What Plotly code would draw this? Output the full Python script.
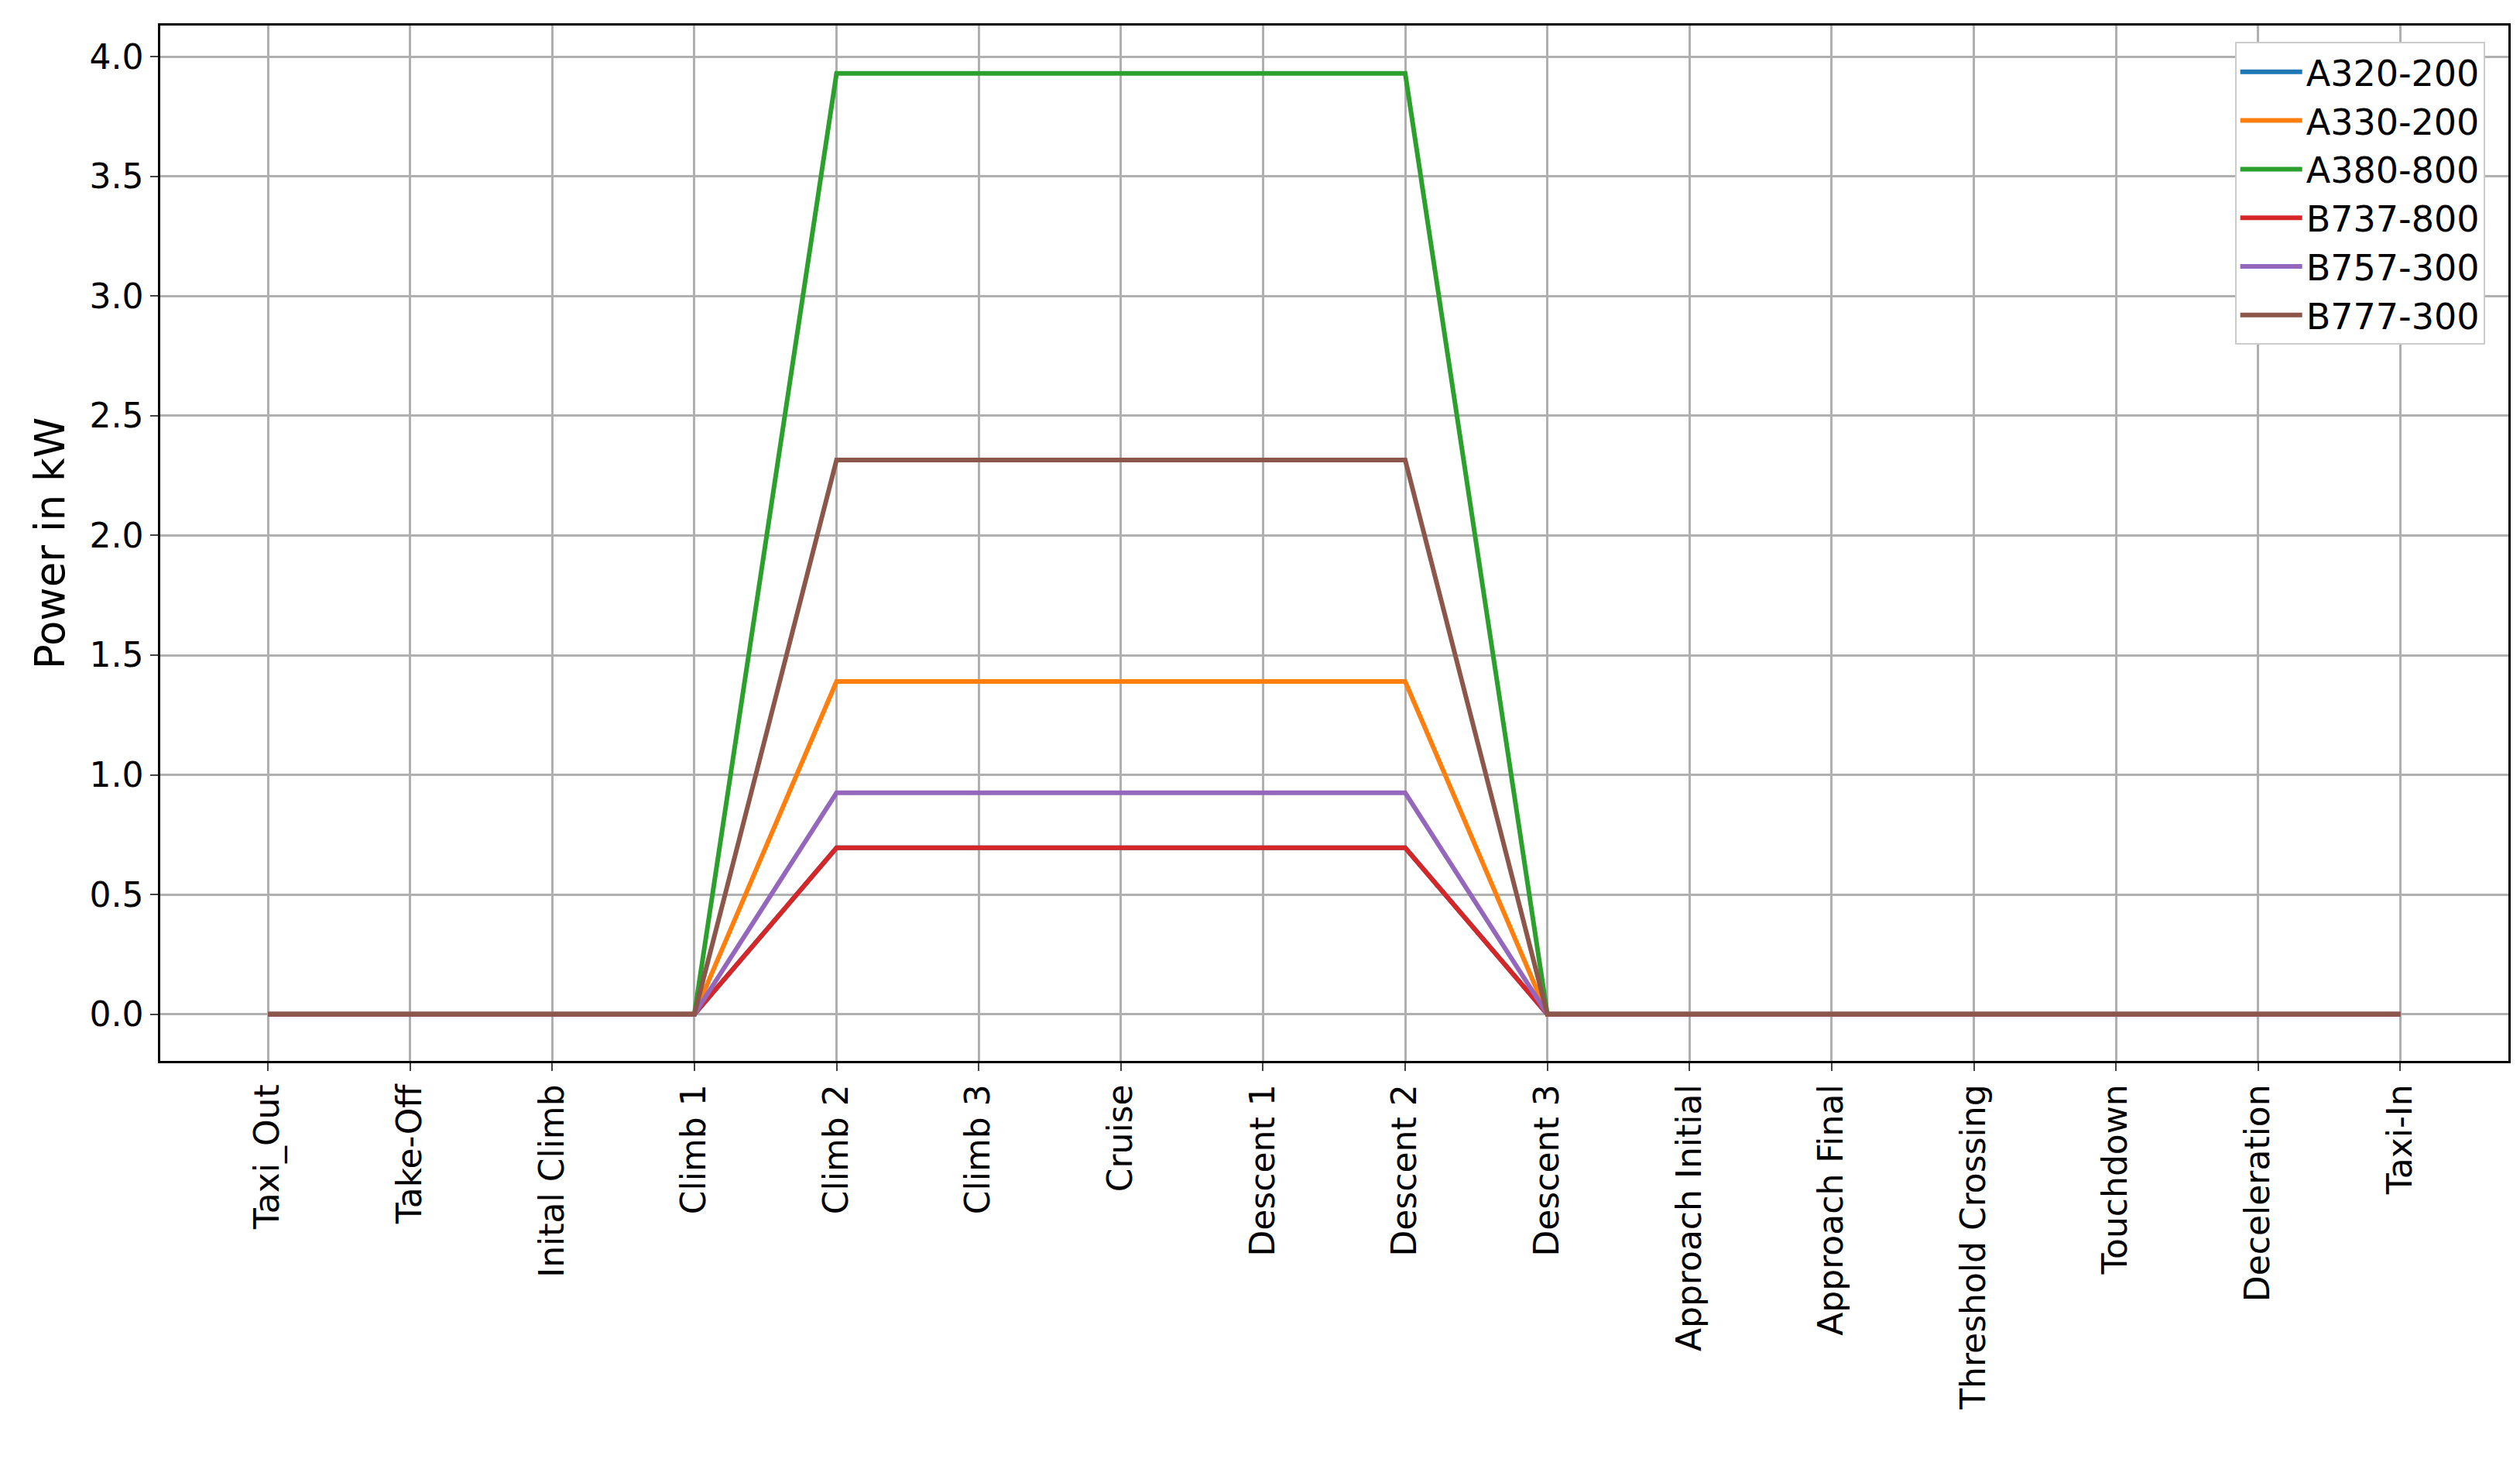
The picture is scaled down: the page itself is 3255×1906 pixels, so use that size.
import plotly.graph_objects as go

phases = ["Taxi_Out","Take-Off","Inital Climb","Climb 1","Climb 2","Climb 3","Cruise",
          "Descent 1","Descent 2","Descent 3","Approach Initial","Approach Final",
          "Threshold Crossing","Touchdown","Deceleration","Taxi-In"]
def prof(v):
    return [0,0,0,0,v,v,v,v,v,0,0,0,0,0,0,0]
a320 = prof(0.695)
a330 = prof(1.39)
a380 = prof(3.93)
b737 = prof(0.695)
b757 = prof(0.925)
b777 = prof(2.315)
names = ["A320-200","A330-200","A380-800","B737-800","B757-300","B777-300"]
series = [a320,a330,a380,b737,b757,b777]
colors = ["#1f77b4","#ff7f0e","#2ca02c","#d62728","#9467bd","#8c564b"]

fig = go.Figure()
for n,s,c in zip(names,series,colors):
    fig.add_trace(go.Scatter(x=list(range(len(phases))), y=s, name=n, mode="lines",
                             line=dict(color=c, width=6)))
font = dict(family="DejaVu Sans", size=44, color="black")
fig.update_layout(
    width=3255, height=1906, plot_bgcolor="white", paper_bgcolor="white",
    margin=dict(l=199, r=23, t=25, b=544), font=font,
    legend=dict(x=0.99, y=0.984, xanchor="right", yanchor="top", bgcolor="white",
                bordercolor="#cccccc", borderwidth=2, itemwidth=80,
                font=dict(family="DejaVu Sans", size=46)),
)
fig.update_xaxes(tickmode="array", tickvals=list(range(len(phases))), ticktext=phases,
                 tickangle=-90, range=[-0.757, 15.76], showgrid=True, gridcolor="#b0b0b0",
                 gridwidth=2.5, showline=True, linecolor="black", linewidth=2.5, mirror=True,
                 ticks="outside", ticklen=10, tickwidth=2, zeroline=False)
fig.update_yaxes(range=[-0.195, 4.13], tickvals=[0,0.5,1,1.5,2,2.5,3,3.5,4],
                 ticktext=["0.0","0.5","1.0","1.5","2.0","2.5","3.0","3.5","4.0"],
                 showgrid=True, gridcolor="#b0b0b0", gridwidth=2.5, showline=True,
                 linecolor="black", linewidth=2.5, mirror=True, ticks="outside", ticklen=10,
                 tickwidth=2, zeroline=False, title=dict(text="Power in kW", standoff=15))
fig.write_html("out.html")
